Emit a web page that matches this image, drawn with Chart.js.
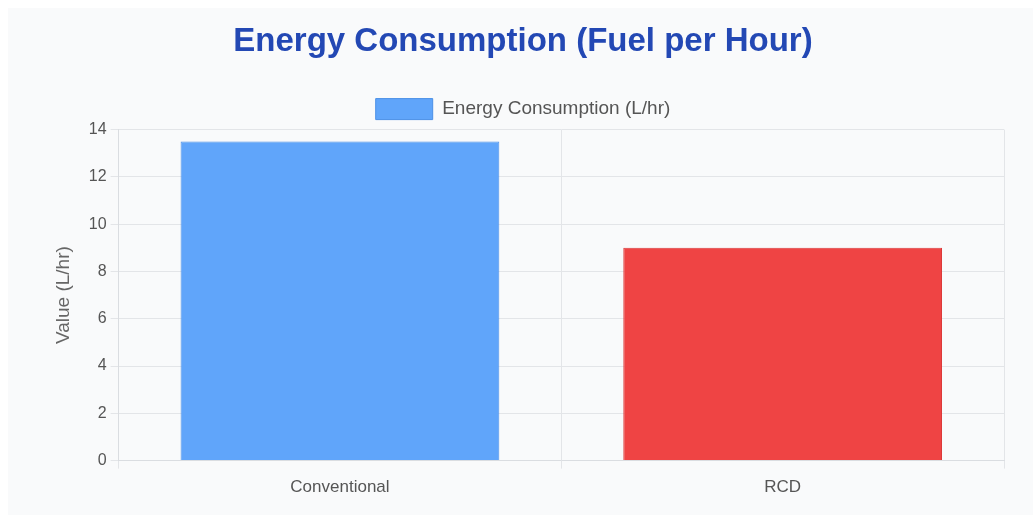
<!DOCTYPE html>
<html>
<head>
<meta charset="utf-8">
<title>Energy Consumption</title>
<script src="https://cdn.jsdelivr.net/npm/chart.js"></script>
<style>
  html, body { margin: 0; padding: 0; background: #ffffff; }
  .card {
    position: absolute;
    left: 8px; top: 8px;
    width: 1025px; height: 507px;
    background: #f9fafb;
  }
  .card canvas { display: block; }
</style>
</head>
<body>
<div class="card">
  <canvas id="energyChart" width="1025" height="507"></canvas>
</div>
<script>
  // fuel use per hour for each system
  const categories = ["Conventional", "RCD"];
  const fuelPerHour = [13.5, 9];
  const yTicks = [0, 2, 4, 6, 8, 10, 12, 14];

  const font = "'Liberation Sans', Arial, Helvetica, sans-serif";

  const ctx = document.getElementById("energyChart").getContext("2d");
  new Chart(ctx, {
    type: "bar",
    data: {
      labels: categories,
      datasets: [
        {
          label: "Energy Consumption (L/hr)",
          data: fuelPerHour,
          backgroundColor: ["#60a5fa", "#ef4444"],
          borderColor: ["#4b8fe6", "#dc3a3a"],
          borderWidth: 1,
        },
      ],
    },
    options: {
      responsive: false,
      animation: false,
      layout: { padding: { left: 34, right: 29, top: 6, bottom: 8 } },
      plugins: {
        title: {
          display: true,
          text: "Energy Consumption (Fuel per Hour)",
          color: "#2348b4",
          font: { family: font, size: 33, weight: "bold" },
          padding: { top: 8, bottom: 27 },
        },
        legend: {
          position: "top",
          labels: {
            color: "#555",
            boxWidth: 57,
            boxHeight: 21,
            font: { family: font, size: 19 },
          },
        },
        tooltip: { enabled: false },
      },
      scales: {
        x: {
          grid: { color: "#e3e5e8", tickLength: 8 },
          border: { color: "#dadde1" },
          ticks: { color: "#555", font: { family: font, size: 17 }, padding: 9 },
        },
        y: {
          min: 0,
          max: 14,
          afterBuildTicks: (axis) => {
            axis.ticks = yTicks.map((v) => ({ value: v }));
          },
          grid: { color: "#e3e5e8", tickLength: 8 },
          border: { color: "#dadde1" },
          ticks: { color: "#555", font: { family: font, size: 16 }, padding: 4 },
          title: {
            display: true,
            text: "Value (L/hr)",
            color: "#666",
            font: { family: font, size: 19 },
            padding: 10,
          },
        },
      },
    },
  });
</script>
</body>
</html>
